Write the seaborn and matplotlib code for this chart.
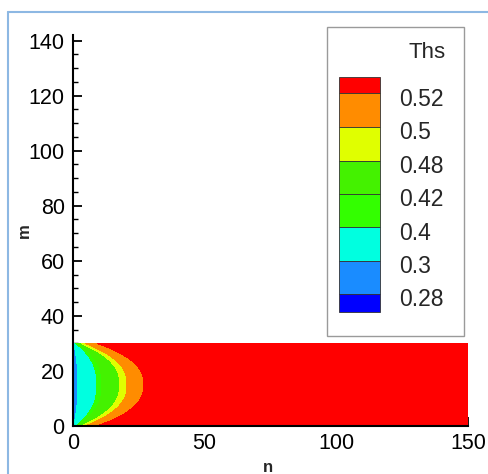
import numpy as np
import matplotlib
matplotlib.use("Agg")
import matplotlib.pyplot as plt
import seaborn as sns
from matplotlib.patches import Rectangle
from matplotlib.lines import Line2D

# ---- data ----
levels = [0.28, 0.3, 0.4, 0.42, 0.48, 0.5, 0.52]          # contour levels of Ths
mid_reach = [0.6, 1.8, 9.0, 11.0, 17.7, 20.5, 26.8]       # n-extent of each level at m = 15
edge_reach = [0.05, 0.2, 1.0, 1.5, 3.0, 4.5, 9.0]         # n-extent of each level at m = 0 / 30
wall_value = 0.25
far_value = 0.55
band_colors = ["#0000ff", "#1a8cff", "#00ffe0", "#33ff00",
               "#44f200", "#e0ff00", "#ff8c00", "#ff0000"]
legend_labels = ["0.52", "0.5", "0.48", "0.42", "0.4", "0.3", "0.28"]
x_ticks = [0, 50, 100, 150]
y_ticks = [0, 20, 40, 60, 80, 100, 120, 140]
n_max, m_max = 150, 30

# ---- build field ----
n = np.linspace(0, n_max, 1501)
m = np.linspace(0, m_max, 301)
s = (m - m_max / 2) / (m_max / 2)
Z = np.empty((m.size, n.size))
R = np.array(mid_reach)
E = np.array(edge_reach)
for i, si in enumerate(s):
    w = 1 - np.abs(si) ** 2.5
    p = R * w + E * (1 - w)
    xp = np.concatenate([[0.0], p, [n_max]])
    fp = np.concatenate([[wall_value], levels, [far_value]])
    Z[i] = np.interp(n, xp, fp)

sns.set_style("ticks")
plt.rcParams['font.family'] = ['Liberation Sans', 'DejaVu Sans']

W, H = 488, 474
fig = plt.figure(figsize=(W / 100, H / 100), dpi=100)

def fx(x):
    return x / W

def fy(y):
    return 1 - y / H

ax_l, ax_r, ax_t, ax_b = 73, 468, 35, 426
ax = fig.add_axes([fx(ax_l), fy(ax_b), (ax_r - ax_l) / W, (ax_b - ax_t) / H])
ax.set_facecolor("white")
ax.contourf(n, m, Z, levels=[0.0] + levels + [1.0], colors=band_colors)
ax.set_xlim(0, n_max)
ax.set_ylim(0, 142)
ax.set_xticks(x_ticks)
ax.set_yticks(y_ticks)
ax.set_xticks(np.arange(0, 151, 10), minor=True)
ax.set_yticks(np.arange(0, 141, 5), minor=True)
sns.despine(ax=ax)
for sp in ["left", "bottom"]:
    ax.spines[sp].set_linewidth(1.5)
    ax.spines[sp].set_color("black")
ax.tick_params(which="major", direction="in", length=6.5, width=1.3,
               labelsize=15.5, pad=5, colors="black")
ax.tick_params(which="minor", direction="in", length=3.8, width=1.0, colors="black")
ax.tick_params(axis="y", which="major", pad=6)

fig.text(fx(268), fy(467), "n", fontsize=12, fontweight="bold", ha="center", va="center")
fig.text(fx(24), fy(231), "m", fontsize=12, fontweight="bold", ha="center", va="center",
         rotation=90)

# ---- legend box ----
fig.add_artist(Rectangle((fx(327), fy(336)), (464 - 327) / W, (336 - 27) / H,
                         transform=fig.transFigure, facecolor="white",
                         edgecolor="#9a9a9a", lw=1.0))
fig.text(fx(427), fy(52), "Ths", fontsize=16, ha="center", va="center")
bounds = [77.3, 93.3, 126.7, 160.7, 194.0, 227.3, 260.7, 294.0, 311.7]
legend_colors = band_colors[::-1]
for k in range(len(legend_colors)):
    y0, y1 = bounds[k], bounds[k + 1]
    fig.add_artist(Rectangle((fx(339), fy(y1)), (380 - 339) / W, (y1 - y0) / H,
                             transform=fig.transFigure, facecolor=legend_colors[k],
                             edgecolor="#333333", lw=0.6))
for k, lab in enumerate(legend_labels):
    fig.text(fx(399), fy(bounds[k + 1] + 6), lab, fontsize=16.5, ha="left", va="center")

# ---- outer light-blue frame ----
fig.add_artist(Line2D([fx(8), fx(8)], [fy(12), 0], transform=fig.transFigure,
                      color="#8db8e3", lw=1.5))
fig.add_artist(Line2D([fx(8), 1], [fy(12), fy(12)], transform=fig.transFigure,
                      color="#8db8e3", lw=1.5))

fig.savefig("out.png", dpi=100)
